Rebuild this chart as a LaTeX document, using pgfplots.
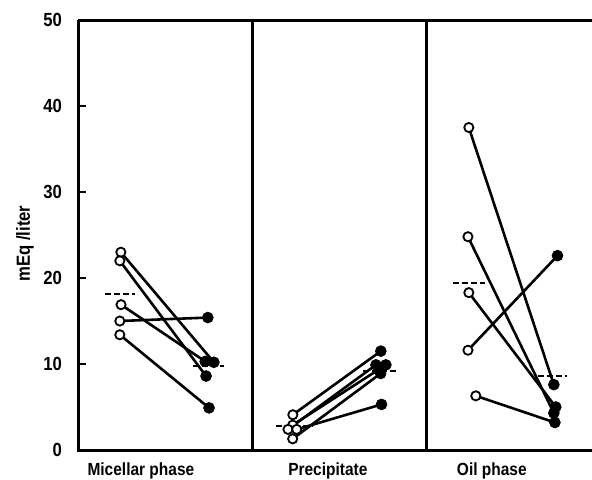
\documentclass[border=0pt]{standalone}
\usepackage{fontspec}
\setmainfont{Liberation Sans}[FakeStretch=0.88]
\usepackage{pgfplots}
\pgfplotsset{compat=1.18}
\begin{document}
\begin{tikzpicture}
\useasboundingbox (-39pt,-14.5pt) rectangle (257pt,225pt);
\begin{axis}[
  scale only axis, width=257pt, height=215pt,
  xmin=0, xmax=2.95, ymin=0, ymax=50,
  axis line style={draw=none},
  ytick={0,10,20,30,40,50}, ytick pos=left, tick align=inside,
  major tick length=4pt,
  ytick style={line width=1.3pt, black},
  yticklabel style={font=\fontsize{9.5}{10}\selectfont\bfseries, xshift=-4.5pt},
  /pgf/number format/assume math mode=true,
  xtick={0.361,1.434,2.375},
  xticklabels={Micellar phase, Precipitate, Oil phase},
  xtick style={draw=none},
  xticklabel style={font=\fontsize{8.8}{9}\selectfont\bfseries, yshift=-3pt},
  ylabel={mEq /liter},
  ylabel style={font=\fontsize{9.5}{10}\selectfont\bfseries, at={(axis description cs:-0.103,0.48)}, anchor=center},
  clip=false,
]
% frame
\draw[line width=1.5pt] (axis cs:0,50) -- (axis cs:0,0) -- (axis cs:2.95,0);
\draw[line width=1.5pt] (axis cs:0,50) -- (axis cs:2.95,50);
\draw[line width=1.5pt] (axis cs:1,0) -- (axis cs:1,50);
\draw[line width=1.5pt] (axis cs:2,0) -- (axis cs:2,50);

% Micellar phase pairs
\addplot[black, line width=1.3pt] coordinates {(0.246,23.0) (0.78,10.2)};
\addplot[black, line width=1.3pt] coordinates {(0.240,22.0) (0.735,8.6)};
\addplot[black, line width=1.3pt] coordinates {(0.247,16.9) (0.73,10.3)};
\addplot[black, line width=1.3pt] coordinates {(0.240,15.0) (0.745,15.4)};
\addplot[black, line width=1.3pt] coordinates {(0.240,13.4) (0.752,4.9)};
% Precipitate pairs
\addplot[black, line width=1.3pt] coordinates {(1.233,4.1) (1.738,11.5)};
\addplot[black, line width=1.3pt] coordinates {(1.232,2.9) (1.767,9.9)};
\addplot[black, line width=1.3pt] coordinates {(1.205,2.4) (1.710,9.9)};
\addplot[black, line width=1.3pt] coordinates {(1.232,1.3) (1.737,8.9)};
\addplot[black, line width=1.3pt] coordinates {(1.255,2.4) (1.742,5.3)};
% Oil phase pairs
\addplot[black, line width=1.3pt] coordinates {(2.243,37.5) (2.731,7.6)};
\addplot[black, line width=1.3pt] coordinates {(2.238,24.8) (2.731,4.3)};
\addplot[black, line width=1.3pt] coordinates {(2.243,18.3) (2.742,5.0)};
\addplot[black, line width=1.3pt] coordinates {(2.238,11.6) (2.752,22.6)};
\addplot[black, line width=1.3pt] coordinates {(2.283,6.3) (2.737,3.2)};

% means
\addplot[black, line width=1.1pt, dash pattern=on 3pt off 1.5pt] coordinates {(0.155,18.1) (0.327,18.1)};
\addplot[black, line width=1.1pt, dash pattern=on 3pt off 1.5pt] coordinates {(0.66,9.8) (0.84,9.8)};
\addplot[black, line width=1.1pt, dash pattern=on 3pt off 1.5pt] coordinates {(1.136,2.8) (1.343,2.8)};
\addplot[black, line width=1.1pt, dash pattern=on 3pt off 1.5pt] coordinates {(1.635,9.2) (1.836,9.2)};
\addplot[black, line width=1.1pt, dash pattern=on 3pt off 1.5pt] coordinates {(2.152,19.4) (2.335,19.4)};
\addplot[black, line width=1.1pt, dash pattern=on 3pt off 1.5pt] coordinates {(2.639,8.6) (2.805,8.6)};

% open circles (initial)
\addplot[only marks, mark=*, mark size=2.3pt, mark options={fill=white, draw=black, line width=0.9pt}] coordinates {
(0.246,23.0) (0.240,22.0) (0.247,16.9) (0.240,15.0) (0.240,13.4)
(1.233,4.1) (1.232,2.9) (1.205,2.4) (1.232,1.3) (1.255,2.4)
(2.243,37.5) (2.238,24.8) (2.243,18.3) (2.238,11.6) (2.283,6.3)};
% closed circles (final)
\addplot[only marks, mark=*, mark size=2.7pt, mark options={fill=black, draw=black}] coordinates {
(0.78,10.2) (0.735,8.6) (0.73,10.3) (0.745,15.4) (0.752,4.9)
(1.738,11.5) (1.767,9.9) (1.710,9.9) (1.737,8.9) (1.742,5.3)
(2.731,7.6) (2.731,4.3) (2.742,5.0) (2.752,22.6) (2.737,3.2)};
\end{axis}
\end{tikzpicture}
\end{document}
